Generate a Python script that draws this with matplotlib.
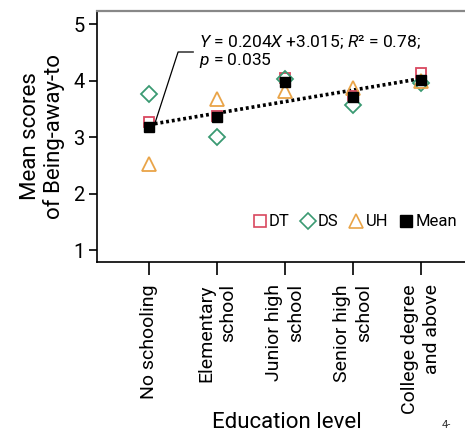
import matplotlib
matplotlib.use("Agg")
import matplotlib.pyplot as plt
import numpy as np
from matplotlib.lines import Line2D

plt.rcParams['font.family'] = ['Roboto', 'DejaVu Sans']
plt.rcParams['mathtext.fontset'] = 'custom'
plt.rcParams['mathtext.rm'] = 'Roboto'
plt.rcParams['mathtext.it'] = 'Roboto:italic'

categories = ["No schooling", "Elementary\nschool", "Junior high\nschool",
              "Senior high\nschool", "College degree\nand above"]
dt = [3.27, 3.37, 4.05, 3.72, 4.13]
ds = [3.77, 3.00, 4.03, 3.57, 3.96]
uh = [2.53, 3.67, 3.81, 3.87, 4.00]
mean = [3.18, 3.36, 3.97, 3.70, 4.01]
slope, intercept = 0.204, 3.015
y_ticks = [1, 2, 3, 4, 5]

fig = plt.figure(figsize=(4.65, 4.38), dpi=100)
ax = fig.add_axes([97/465, 1 - 262/438, (465-97)/465, (262-11)/438])

x = np.arange(len(categories))
c_dt, c_ds, c_uh = "#d9485f", "#3a9a72", "#e9a448"

ax.plot(x, dt, ls='none', marker='s', ms=7.5, mfc='white', mec=c_dt, mew=1.3, zorder=3)
ax.plot(x, ds, ls='none', marker='D', ms=8, mfc='none', mec=c_ds, mew=1.3, zorder=3)
ax.plot(x, uh, ls='none', marker='^', ms=9.5, mfc='none', mec=c_uh, mew=1.3, zorder=3)
ax.plot(x, mean, ls='none', marker='s', ms=7.5, mfc='black', mec='black', zorder=4)

X = np.arange(1, len(categories) + 1)
ax.plot(x, slope * X + intercept, color='black', lw=2.6, ls=(0, (0.8, 0.8)), zorder=2)

handles = [
    Line2D([], [], ls='none', marker='s', ms=8.5, mfc='white', mec=c_dt, mew=1.2),
    Line2D([], [], ls='none', marker='D', ms=8.5, mfc='none', mec=c_ds, mew=1.2),
    Line2D([], [], ls='none', marker='^', ms=9.5, mfc='none', mec=c_uh, mew=1.2),
    Line2D([], [], ls='none', marker='s', ms=8.5, mfc='black', mec='black'),
]
leg = ax.legend(handles, ["DT", "DS", "UH", "Mean"], ncol=4, frameon=False,
                loc='center right', handletextpad=0.05, columnspacing=0.6,
                handlelength=1.0, fontsize=12, borderaxespad=0, borderpad=0)
leg.set_bbox_to_anchor((457/465, 1 - 222/438), transform=fig.transFigure)

ax.annotate("$\\it{Y}$ = 0.204$\\it{X}$ +3.015; $\\it{R}$² = 0.78;\n$\\it{p}$ = 0.035",
            xy=(0.08, slope * 1 + intercept), xycoords='data',
            xytext=(199/465, 1 - 52/438), textcoords='figure fraction',
            fontsize=12.5, va='center', ha='left', linespacing=1.0,
            arrowprops=dict(arrowstyle='-', color='black', lw=0.9,
                            connectionstyle='angle,angleA=0,angleB=72,rad=0',
                            shrinkA=2, shrinkB=0))

ax.set_xlim(-0.765, 4.647)
ax.set_ylim(0.79, 5.23)
ax.set_yticks(y_ticks)
ax.set_xticks(x)
ax.set_xticklabels(categories, rotation=90, ha='center', va='top',
                   multialignment='right', linespacing=1.3)
ax.tick_params(axis='y', length=6, width=1.2, labelsize=14.5, pad=3)
ax.tick_params(axis='x', length=9, width=1.2, labelsize=14, pad=7)

ax.spines['right'].set_visible(False)
ax.spines['top'].set_color('#888888')
ax.spines['top'].set_linewidth(1.6)
ax.spines['left'].set_linewidth(1.2)
ax.spines['bottom'].set_linewidth(1.2)

ax.set_ylabel("Mean scores\nof Being-away-to", fontsize=16, labelpad=6, linespacing=1.1)
fig.text(287/465, 1 - 423/438, "Education level", fontsize=16, ha='center', va='center')
fig.text(442/465, 1 - 425/438, "4-", fontsize=8, ha='left', va='center', color='#333333')

fig.savefig("out.png", dpi=100)
